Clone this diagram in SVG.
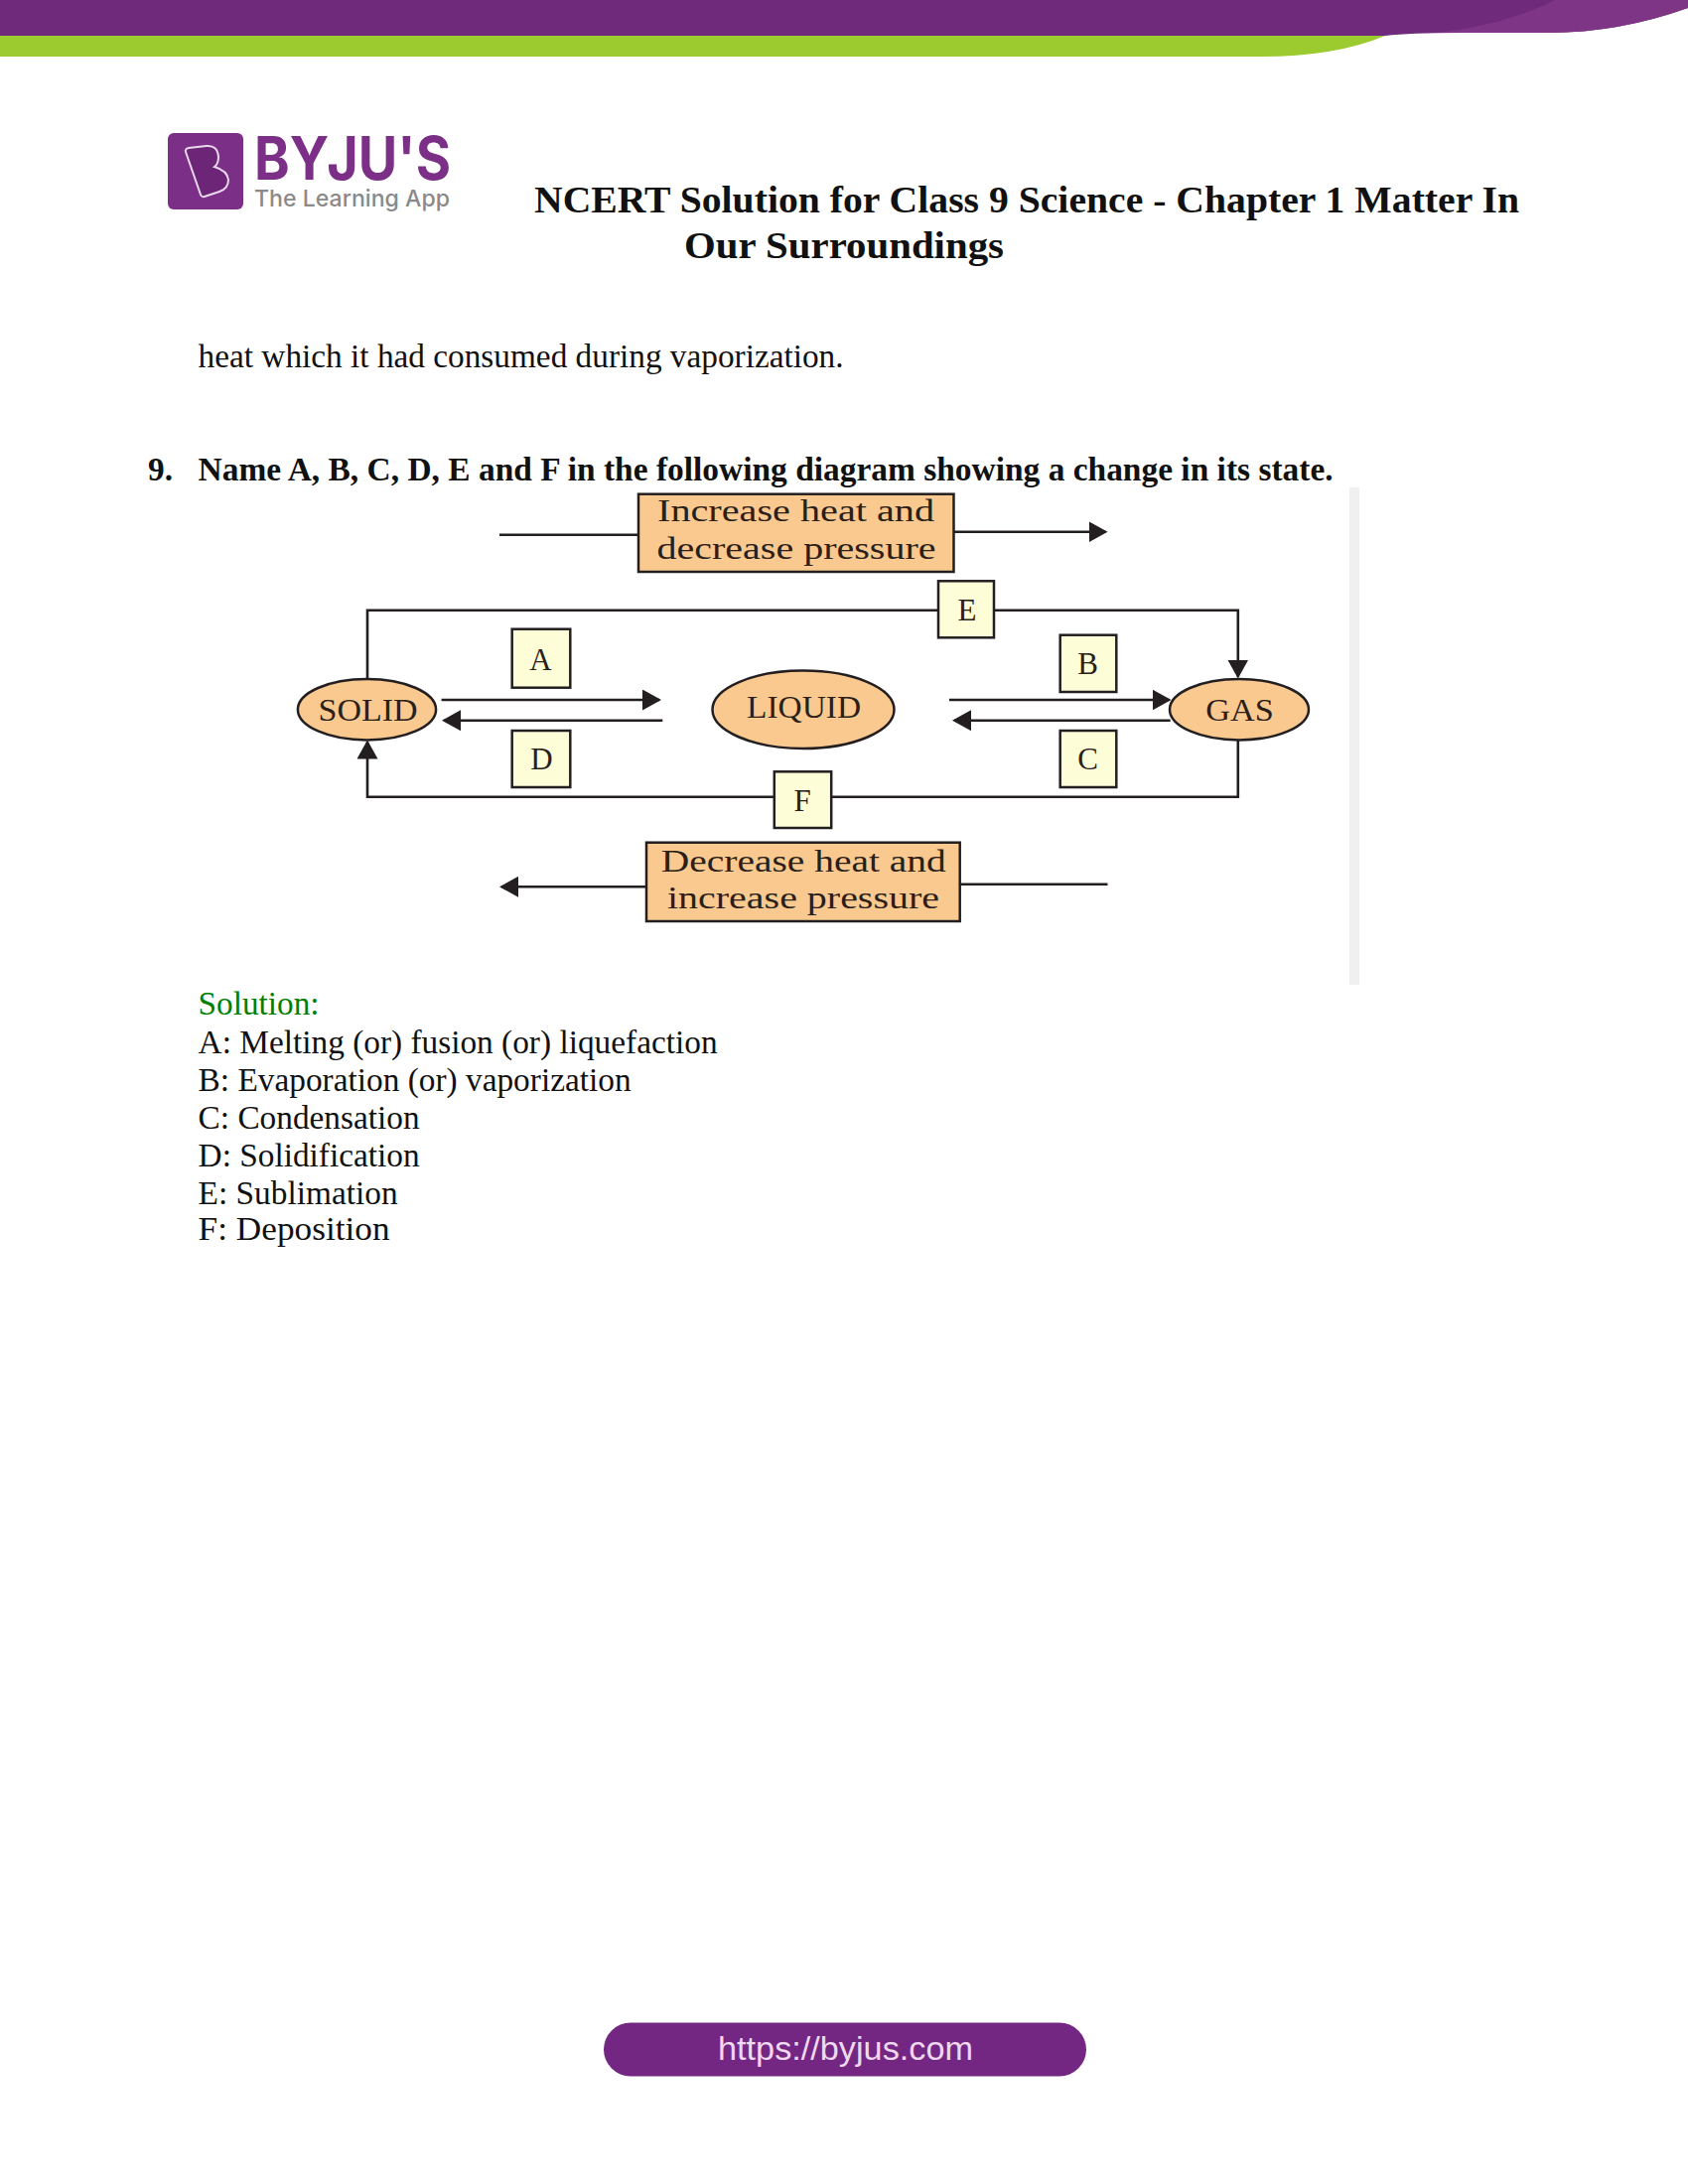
<svg xmlns="http://www.w3.org/2000/svg" width="1700" height="2200" viewBox="0 0 1700 2200">
<style>
.body{font-family:"Liberation Serif",serif;font-size:33.3px;fill:#111}
.bold{font-weight:bold}
.title{font-family:"Liberation Serif",serif;font-weight:bold;font-size:38px;fill:#111}
.sol{fill:#008000}
.dia{font-family:"Liberation Serif",serif;font-size:31px;fill:#2a2018}
.mid{text-anchor:middle}
.orange{fill:#fac98f;stroke:#231f20;stroke-width:2.5}
.pale{fill:#fdfdd8;stroke:#231f20;stroke-width:2.5}
.line{fill:none;stroke:#231f20;stroke-width:2.6}
.arrow{marker-end:url(#head)}
</style>
<defs>
<marker id="head" markerUnits="userSpaceOnUse" markerWidth="19" markerHeight="21" viewBox="0 0 19 21" refX="17" refY="10.5" orient="auto">
<path d="M0 0L19 10.5L0 21Z" fill="#231f20"/>
</marker>
</defs>
<rect width="1700" height="2200" fill="#fff"/>
<g id="header">
<path d="M0 36H1395Q1345 57 1270 57H0Z" fill="#9bcb2f"/>
<path d="M0 0H1700V8Q1630 33 1560 33H1470Q1420 33 1395 36H0Z" fill="#6f2a7b"/>
<path d="M1566 0H1700V8Q1630 33 1560 33H1447Q1520 24 1566 0Z" fill="#7f3585"/>
</g>
<g id="logo">
<rect x="169" y="134" width="76" height="77" rx="6" fill="#7b2f87"/>
<path d="M187 153Q186 150 190 149L208 147Q219 146 220 158Q220 165 216 168Q229 172 230 181Q230 190 221 193L206 198Q203 199 202 196Z" fill="#6d2578" stroke="#ead8ee" stroke-width="2"/>
<text x="256" y="181" font-family="Inter,sans-serif" font-weight="bold" font-size="60" fill="#7b2f87" textLength="198" lengthAdjust="spacingAndGlyphs">BYJU'S</text>
<text x="256" y="208" font-family="Inter,sans-serif" font-weight="500" font-size="23" fill="#8a8a8a" textLength="197" lengthAdjust="spacingAndGlyphs">The Learning App</text>
</g>
<g id="title">
<text class="title" x="538" y="214" textLength="992" lengthAdjust="spacingAndGlyphs">NCERT Solution for Class 9 Science - Chapter 1 Matter In</text>
<text class="title" x="689" y="260" textLength="322" lengthAdjust="spacingAndGlyphs">Our Surroundings</text>
</g>
<g id="page-text">
<text class="body" x="199.6" y="370" textLength="650" lengthAdjust="spacingAndGlyphs">heat which it had consumed during vaporization.</text>
<text class="body bold" x="149" y="484">9.</text>
<text class="body bold" x="199.6" y="484" textLength="1143" lengthAdjust="spacingAndGlyphs">Name A, B, C, D, E and F in the following diagram showing a change in its state.</text>
<text class="body sol" x="199.6" y="1022" textLength="122" lengthAdjust="spacingAndGlyphs">Solution:</text>
<text class="body" x="199.6" y="1061" textLength="523" lengthAdjust="spacingAndGlyphs">A: Melting (or) fusion (or) liquefaction</text>
<text class="body" x="199.6" y="1099" textLength="436" lengthAdjust="spacingAndGlyphs">B: Evaporation (or) vaporization</text>
<text class="body" x="199.6" y="1137" textLength="223" lengthAdjust="spacingAndGlyphs">C: Condensation</text>
<text class="body" x="199.6" y="1175" textLength="223" lengthAdjust="spacingAndGlyphs">D: Solidification</text>
<text class="body" x="199.6" y="1213" textLength="201" lengthAdjust="spacingAndGlyphs">E: Sublimation</text>
<text class="body" x="199.6" y="1249" textLength="193" lengthAdjust="spacingAndGlyphs">F: Deposition</text>
</g>
<rect id="scroll-bar" x="1359" y="491" width="10" height="501" fill="#f0f0f0"/>
<g id="connectors">
<path class="line" d="M503 538.7H643"/>
<path class="line arrow" d="M961 535.7H1113.5"/>
<path class="line arrow" d="M370 684V614.7H1246.8V681.5"/>
<path class="line arrow" d="M1246.8 745V802.7H370V747.5"/>
<path class="line arrow" d="M444.6 705H664"/>
<path class="line arrow" d="M667.3 725.7H447"/>
<path class="line arrow" d="M956 705H1177.5"/>
<path class="line arrow" d="M1178.7 725.7H961"/>
<path class="line arrow" d="M651 893.3H505"/>
<path class="line" d="M967 890.7H1115.5"/>
</g>
<g id="node-increase">
<rect class="orange" x="643" y="497.7" width="317.5" height="78.3"/>
<text class="dia" x="662" y="525" textLength="279" lengthAdjust="spacingAndGlyphs">Increase heat and</text>
<text class="dia" x="661.5" y="562.7" textLength="281" lengthAdjust="spacingAndGlyphs">decrease pressure</text>
</g>
<g id="node-decrease">
<rect class="orange" x="651" y="848.7" width="315.7" height="79.3"/>
<text class="dia" x="665.8" y="877.7" textLength="287" lengthAdjust="spacingAndGlyphs">Decrease heat and</text>
<text class="dia" x="672" y="915" textLength="274" lengthAdjust="spacingAndGlyphs">increase pressure</text>
</g>
<g id="node-solid">
<ellipse class="orange" cx="369.5" cy="714.7" rx="69.6" ry="30.7"/>
<text class="dia" x="320.6" y="726" textLength="100" lengthAdjust="spacingAndGlyphs">SOLID</text>
</g>
<g id="node-liquid">
<ellipse class="orange" cx="809" cy="714.8" rx="91.5" ry="39.2"/>
<text class="dia" x="752" y="723.3" textLength="115" lengthAdjust="spacingAndGlyphs">LIQUID</text>
</g>
<g id="node-gas">
<ellipse class="orange" cx="1248" cy="714.7" rx="70" ry="30.7"/>
<text class="dia" x="1214.3" y="726" textLength="68.5" lengthAdjust="spacingAndGlyphs">GAS</text>
</g>
<g id="node-a"><rect class="pale" x="515.7" y="633.7" width="58.6" height="59"/><text class="dia mid" x="544.5" y="675">A</text></g>
<g id="node-d"><rect class="pale" x="515.7" y="736" width="58.6" height="57"/><text class="dia mid" x="545.5" y="775">D</text></g>
<g id="node-e"><rect class="pale" x="945" y="585.3" width="56" height="57"/><text class="dia mid" x="974" y="625">E</text></g>
<g id="node-b"><rect class="pale" x="1067.7" y="639.7" width="56.6" height="57.3"/><text class="dia mid" x="1095.6" y="679">B</text></g>
<g id="node-c"><rect class="pale" x="1067.7" y="736" width="56.6" height="57"/><text class="dia mid" x="1095.6" y="775">C</text></g>
<g id="node-f"><rect class="pale" x="779.8" y="777.3" width="57.4" height="56.7"/><text class="dia mid" x="808" y="817.3">F</text></g>
<g id="footer">
<rect x="608" y="2037.5" width="486" height="54" rx="27" fill="#732682"/>
<text x="723" y="2075" font-family="'Liberation Sans',sans-serif" font-size="33" fill="#f0d8f0" textLength="257" lengthAdjust="spacingAndGlyphs">https://byjus.com</text>
</g>
</svg>
